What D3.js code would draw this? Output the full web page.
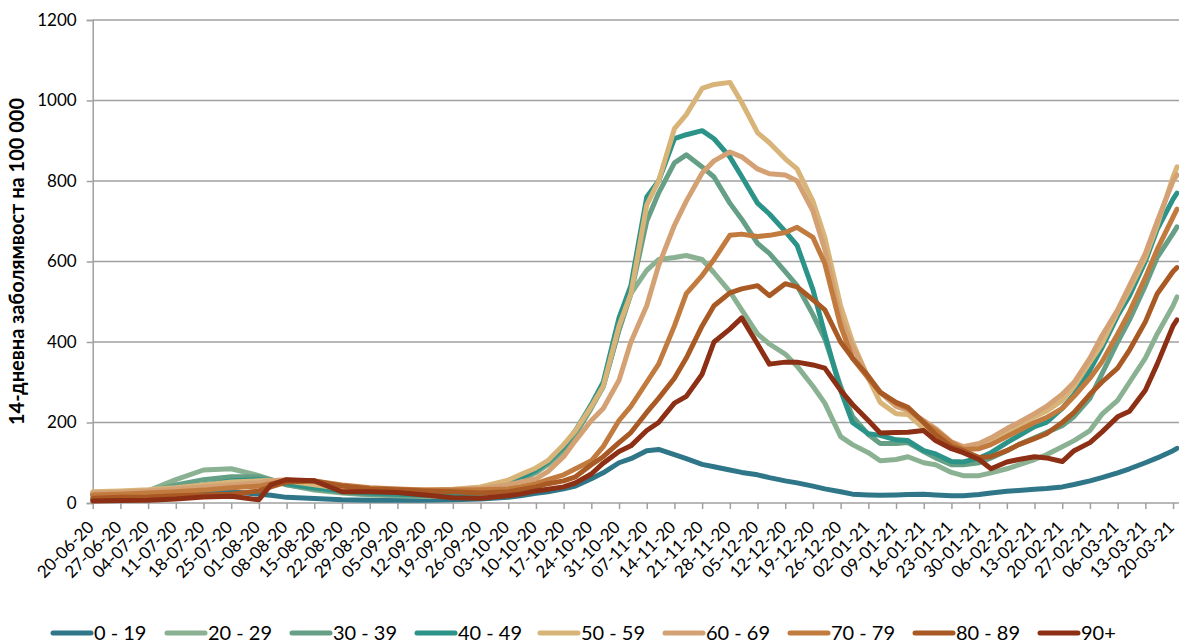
<!DOCTYPE html>
<html><head><meta charset="utf-8">
<script src="https://cdn.jsdelivr.net/npm/d3@7"></script>
<style>body{margin:0;background:#fff}svg{display:block}</style>
</head><body><svg id="c" width="1179" height="643"></svg>
<script>
const dates = ["2020-06-20","2020-06-27","2020-07-04","2020-07-11","2020-07-18","2020-07-25","2020-08-01","2020-08-04","2020-08-08","2020-08-15","2020-08-22","2020-08-29","2020-09-05","2020-09-12","2020-09-19","2020-09-26","2020-10-03","2020-10-06","2020-10-10","2020-10-13","2020-10-17","2020-10-20","2020-10-24","2020-10-27","2020-10-31","2020-11-03","2020-11-07","2020-11-10","2020-11-14","2020-11-17","2020-11-21","2020-11-24","2020-11-28","2020-12-01","2020-12-05","2020-12-08","2020-12-12","2020-12-15","2020-12-19","2020-12-22","2020-12-26","2020-12-29","2021-01-02","2021-01-05","2021-01-09","2021-01-12","2021-01-16","2021-01-19","2021-01-23","2021-01-26","2021-01-30","2021-02-02","2021-02-06","2021-02-09","2021-02-13","2021-02-16","2021-02-20","2021-02-23","2021-02-27","2021-03-02","2021-03-06","2021-03-09","2021-03-13","2021-03-16","2021-03-20","2021-03-21"];

const xTickLabels = ["20-06-20","27-06-20","04-07-20","11-07-20","18-07-20","25-07-20","01-08-20","08-08-20","15-08-20","22-08-20","29-08-20","05-09-20","12-09-20","19-09-20","26-09-20","03-10-20","10-10-20","17-10-20","24-10-20","31-10-20","07-11-20","14-11-20","21-11-20","28-11-20","05-12-20","12-12-20","19-12-20","26-12-20","02-01-21","09-01-21","16-01-21","23-01-21","30-01-21","06-02-21","13-02-21","20-02-21","27-02-21","06-03-21","13-03-21","20-03-21"];
const yTicks = [0,200,400,600,800,1000,1200];

const seriesNames = ["0 - 19","20 - 29","30 - 39","40 - 49","50 - 59","60 - 69","70 - 79","80 - 89","90+"];

const s0_19 = [8,10,13,17,22,28,22,19,14,11,8,7,7,7,8,10,14,
 18,24,28,35,42,60,75,100,110,130,133,120,110,96,90,82,76,70,63,55,50,42,35,28,22,20,19,20,21,22,20,18,18,21,25,29,31,34,36,40,46,55,63,75,85,100,112,130,136];
const s20_29 = [20,22,30,58,82,85,68,58,45,32,25,20,18,16,17,20,42,
 55,75,95,130,170,235,290,430,520,578,605,610,615,605,572,525,480,420,395,370,340,290,248,165,145,125,105,108,115,100,95,76,68,68,75,85,95,108,120,140,155,180,220,255,300,360,420,490,512];
const s30_39 = [20,22,27,45,58,65,65,58,45,35,27,22,20,18,19,23,45,
 58,78,98,135,172,238,288,430,520,700,770,845,865,835,810,745,705,645,620,575,540,468,408,290,215,170,148,148,150,128,112,95,95,100,112,130,145,162,175,192,215,260,320,400,455,540,610,670,686];
const s40_49 = [22,24,28,35,45,55,58,55,48,38,30,25,22,20,22,27,50,
 62,82,102,140,180,245,300,460,540,760,800,905,915,925,905,860,811,745,718,675,640,530,420,280,200,172,168,157,155,130,122,103,102,112,125,150,167,190,200,235,270,330,385,465,515,600,680,755,770];
const s50_59 = [28,30,33,38,45,52,55,56,55,45,36,33,32,32,34,40,57,
 70,87,105,145,180,240,290,440,520,740,800,930,965,1030,1040,1045,995,920,895,855,830,750,660,490,400,310,250,222,220,185,170,142,137,140,152,175,192,214,228,255,290,350,395,475,530,610,690,810,835];
const s60_69 = [25,27,30,35,40,45,50,55,58,52,42,35,32,30,32,36,45,
 52,60,78,115,155,205,235,305,400,490,590,690,750,820,850,872,860,830,818,815,800,725,630,460,390,310,275,240,230,205,185,152,140,148,162,185,200,222,240,270,300,360,415,480,540,620,700,800,815];
const s70_79 = [20,22,25,28,32,38,42,48,55,55,45,38,35,32,32,33,35,
 40,48,58,70,85,105,140,205,240,300,345,440,520,565,605,665,668,662,665,672,685,660,595,440,360,310,275,248,235,200,180,150,133,135,145,165,180,200,212,235,265,310,350,420,475,560,630,710,730];
const s80_89 = [12,14,15,18,20,22,30,40,52,55,42,35,33,30,28,25,28,
 33,40,48,55,65,95,115,150,175,225,260,310,360,440,490,522,532,540,515,545,537,505,480,400,360,315,275,250,238,200,170,140,130,113,115,130,145,160,172,200,225,270,300,335,380,450,520,575,585];
const s90p = [5,6,7,10,15,17,8,45,58,55,28,28,26,20,13,12,18,
 22,30,34,40,50,72,99,128,142,180,200,248,265,320,400,432,460,395,345,350,350,343,335,280,245,205,174,175,176,180,155,135,125,108,85,102,108,115,112,103,130,150,176,214,228,280,345,440,455];

const seriesValues = [s0_19,s20_29,s30_39,s40_49,s50_59,s60_69,s70_79,s80_89,s90p];
const colors = ["#2F7689","#8AB292","#659F86","#2B9388","#D8B479","#D4A174","#C27B3E","#A95A24","#8C2F14"];
const legendX = [53,167,292,417,540,665,790,915,1040];

const svg = d3.select("#c");
const parse = d3.timeParse("%Y-%m-%d");
const parseTick = d3.timeParse("%d-%m-%y");
const M = {left: 92.7, right: 1177, top: 20, bottom: 503};
const x = d3.scaleTime().domain([parse("2020-06-20"), parse("2021-03-21")]).range([M.left, M.right]);
const y = d3.scaleLinear().domain([0,1200]).range([M.bottom, M.top]);

const font = "Lato, 'Open Sans', sans-serif";
const gridColor = "#a0a0a0";

// gridlines
svg.append("g").selectAll("line").data(yTicks.filter(d=>d>0)).join("line")
  .attr("x1", M.left).attr("x2", 1179).attr("y1", d=>y(d)).attr("y2", d=>y(d))
  .attr("stroke", gridColor).attr("stroke-width", 1.5);

// y axis
const yAxis = svg.append("g").attr("transform", `translate(${M.left},0)`)
  .call(d3.axisLeft(y).tickValues(yTicks).tickSize(6).tickPadding(10).tickFormat(d3.format("d")));
yAxis.select(".domain").attr("stroke", gridColor).attr("stroke-width", 1.5);
yAxis.selectAll(".tick line").attr("stroke", gridColor).attr("stroke-width", 1.5);
yAxis.selectAll("text").attr("font-family", font).attr("font-size", 17).attr("fill", "#000");

// x axis
const tickDates = xTickLabels.map(parseTick);
const xAxis = svg.append("g").attr("transform", `translate(0,${M.bottom})`)
  .call(d3.axisBottom(x).tickValues(tickDates).tickSize(6).tickFormat(""));
xAxis.select(".domain").attr("d", `M${M.left},0H1179`).attr("stroke", gridColor).attr("stroke-width", 1.5);
xAxis.selectAll(".tick line").attr("stroke", gridColor).attr("stroke-width", 1.5);
svg.append("g").selectAll("text").data(xTickLabels).join("text")
  .attr("transform", (d)=>`translate(${x(parseTick(d))-2},${M.bottom+21}) rotate(-45)`)
  .attr("text-anchor", "end").attr("dy", "0.35em")
  .attr("font-family", font).attr("font-size", 17).attr("fill", "#000")
  .text(d=>d);

// lines
const pts = dates.map(parse);
const line = d3.line().x((d,i)=>x(pts[i])).y(d=>y(d)).curve(d3.curveLinear);
svg.append("g").selectAll("path").data(seriesValues).join("path")
  .attr("d", d=>line(d)).attr("fill","none")
  .attr("stroke", (d,i)=>colors[i]).attr("stroke-width", 5)
  .attr("stroke-linejoin","round").attr("stroke-linecap","round");

// y-axis title
svg.append("text").attr("transform", `translate(24,${(M.top+M.bottom)/2}) rotate(-90)`)
  .attr("text-anchor","middle").attr("font-family", font).attr("font-weight","bold")
  .attr("font-size", 20).attr("fill","#000").text("14-дневна заболямвост на 100 000");

// legend
const lg = svg.append("g");
seriesNames.forEach((name,i)=>{
  const lx = legendX[i];
  lg.append("line").attr("x1", lx).attr("x2", lx+38).attr("y1", 633).attr("y2", 633)
    .attr("stroke", colors[i]).attr("stroke-width", 5).attr("stroke-linecap","round");
  lg.append("text").attr("x", lx+41).attr("y", 633).attr("dy","0.35em")
    .attr("font-family", font).attr("font-size", 20).attr("fill","#000").text(name);
});
</script></body></html>
